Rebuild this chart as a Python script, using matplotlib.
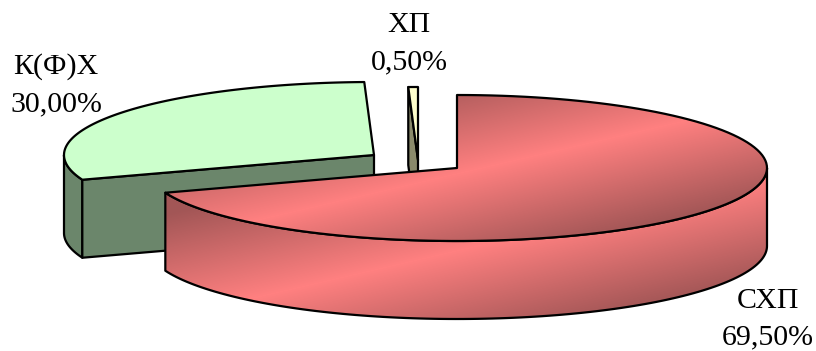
import numpy as np
import matplotlib
matplotlib.use("Agg")
import matplotlib.pyplot as plt
from matplotlib.colors import LinearSegmentedColormap
from matplotlib.patches import Polygon

categories = ["СХП", "К(Ф)Х", "ХП"]
shares = [69.50, 30.00, 0.50]

plt.rcParams['font.family'] = ['Liberation Serif', 'DejaVu Serif']

W, H = 816, 351
RX, RY, DEPTH = 310, 73, 78
# slice centres, every slice is pulled out a different way
centers = [(457, 168), (374, 155), (418, 160)]
label_pos = [(768, 319), (56, 85), (409, 44)]


def rim(cx, cy, a0, a1, n=120):
    # angles in degrees, clockwise from 12 o'clock
    a = np.radians(np.linspace(a0, a1, n))
    return np.column_stack([cx + RX * np.sin(a), cy - RY * np.cos(a)])


def draw_flat(ax, pts, color, z):
    ax.add_patch(Polygon(pts, closed=True, facecolor=color, edgecolor='black',
                         lw=1.6, joinstyle='round', zorder=z))


def draw_shaded(ax, pts, t_dark0, t_bright, t_dark1, z):
    # diagonal dark-bright-dark shading clipped to the face
    xx, yy = np.meshgrid(np.arange(W), np.arange(H))
    t = 0.226 * xx + 0.974 * yy
    v = np.interp(t, [t_dark0, t_bright, t_dark1], [0, 1, 0])
    im = ax.imshow(v, extent=(0, W, H, 0), cmap=red_map, vmin=0, vmax=1,
                   aspect='auto', zorder=z)
    patch = Polygon(pts, closed=True, facecolor='none', edgecolor='black',
                    lw=1.6, joinstyle='round', zorder=z + 0.1)
    ax.add_patch(patch)
    im.set_clip_path(patch)


red_map = LinearSegmentedColormap.from_list("red", ["#a25656", "#ff8080"])

fig = plt.figure(figsize=(W / 100, H / 100), dpi=100)
ax = fig.add_axes([0, 0, 1, 1])

angles = np.cumsum([0] + shares) * 3.6

# green slice: outer wall, cut wall, top
cx, cy = centers[1]
a0, a1 = angles[1], angles[2]
wall = rim(cx, cy, a0, 270)
draw_flat(ax, np.vstack([wall, (wall + [0, DEPTH])[::-1]]), '#6b866b', 1)
p = rim(cx, cy, a0, a0, 1)[0]
draw_flat(ax, [p, (cx, cy), (cx, cy + DEPTH), p + [0, DEPTH]], '#6b866b', 1.2)
draw_flat(ax, np.vstack([rim(cx, cy, a0, a1), [(cx, cy)]]), '#ccffcc', 1.4)

# yellow sliver
cx, cy = centers[2]
a0, a1 = angles[2], angles[3]
p = rim(cx, cy, a0, a0, 1)[0]
draw_flat(ax, [p, (cx, cy), (cx, cy + DEPTH), p + [0, DEPTH]], '#8a8a6b', 2)
draw_flat(ax, np.vstack([rim(cx, cy, a0, a1, 5), [(cx, cy)]]), '#ffffcc', 2.2)

# red slice on top of the others
cx, cy = centers[0]
a0, a1 = angles[0], angles[1]
wall = rim(cx, cy, 90, a1)
draw_shaded(ax, np.vstack([wall, (wall + [0, DEPTH])[::-1]]), 245, 347, 445, 3)
draw_shaded(ax, np.vstack([rim(cx, cy, a0, a1), [(cx, cy)]]), 175, 272, 366, 4)

for name, val, (x, y) in zip(categories, shares, label_pos):
    txt = f"{name}\n{val:.2f}%".replace(".", ",")
    ax.text(x, y, txt, ha='center', va='center', fontsize=21.5,
            linespacing=1.55, color='black', zorder=6)

ax.set_xlim(0, W)
ax.set_ylim(H, 0)
ax.axis('off')
fig.savefig("out.png", dpi=100, facecolor='white')
